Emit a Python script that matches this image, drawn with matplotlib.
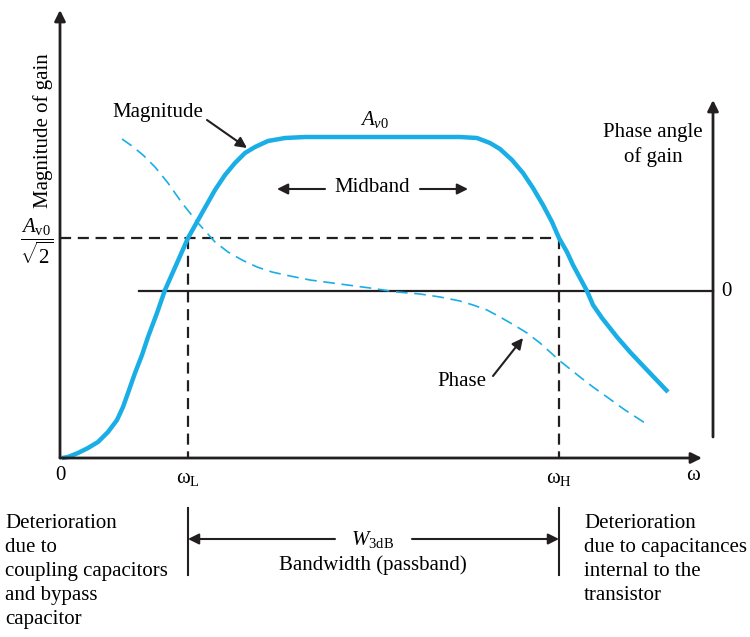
import matplotlib.pyplot as plt

plt.rcParams['font.family'] = ['Liberation Serif', 'DejaVu Serif']
plt.rcParams['mathtext.fontset'] = 'custom'
plt.rcParams['mathtext.rm'] = 'Liberation Serif'
plt.rcParams['mathtext.it'] = 'Liberation Serif:italic'

mag_x = [62, 68, 78, 88, 98, 108, 117, 123, 128, 135, 142, 148, 157, 165, 177, 188, 202, 215, 225,
         235, 245, 255, 268, 285, 305,
         440, 460, 477, 490, 500, 512, 523, 533, 543, 552, 559, 567, 573, 580, 587, 593, 602, 617,
         630, 647, 668]
mag_y = [458, 457, 453, 448, 442, 432, 420, 407, 393, 373, 355, 337, 313, 290, 263, 238, 213, 190, 175,
         163, 153, 147, 141, 138, 137,
         137, 137, 138, 143, 149, 160, 173, 188, 205, 222, 238, 252, 265, 278, 291, 305, 318, 337,
         352, 370, 392]

ph_x = [122, 132, 143, 155, 168, 182, 190, 198, 207, 215, 228, 242, 257, 272, 290, 310, 340, 370,
        397, 420, 440, 460, 473, 487, 500, 514, 527, 540, 550, 560, 570, 580, 593, 607, 625, 645]
ph_y = [139, 146, 155, 167, 183, 203, 213, 223, 233, 242, 252, 260, 267, 272, 276, 280, 284, 288,
        292, 294, 297, 301, 305, 310, 317, 325, 333, 343, 352, 361, 369, 377, 387, 397, 410, 423]

w_L, w_H = 188, 559
half_power_y = 238
zero_y = 291

blue = '#1AAEE6'
ink = '#231f20'
fs = 15

fig = plt.figure(figsize=(7.5, 6.37), dpi=100)
ax = fig.add_axes([0, 0, 1, 1])
ax.set_xlim(0, 750)
ax.set_ylim(637, 0)
ax.axis('off')

def arrow(tail, tip, lw=1.5, ms=16):
    ax.annotate('', xy=tip, xytext=tail,
                arrowprops=dict(arrowstyle='-|>', color=ink, lw=lw,
                                mutation_scale=ms, shrinkA=0, shrinkB=0))

# axes
arrow((60, 458), (60, 10), lw=2)
arrow((60, 458), (702, 458), lw=2)
arrow((713, 437), (713, 100), lw=2)
ax.plot([139, 713], [zero_y, zero_y], color=ink, lw=1.6)

# half power lines
ax.plot([60, w_H], [half_power_y, half_power_y], color=ink, lw=1.6, ls=(0, (5, 3)))
ax.plot([w_L, w_L], [half_power_y, 458], color=ink, lw=1.6, ls=(0, (5, 3)))
ax.plot([w_H, w_H], [half_power_y, 458], color=ink, lw=1.6, ls=(0, (5, 3)))

# curves
ax.plot(mag_x, mag_y, color=blue, lw=3.2, solid_capstyle='butt', solid_joinstyle='round')
ax.plot(ph_x, ph_y, color=blue, lw=1.2, ls=(0, (7, 4)))

# labels
ax.text(43, 131, 'Magnitude of gain', rotation=90, ha='center', va='center', fontsize=fs)
ax.text(37, 241, r'$\dfrac{A_{\rm v0}}{\sqrt{2}}$', ha='center', va='center', fontsize=fs)
ax.text(60, 476, '0', ha='center', va='center', fontsize=fs)
ax.text(w_L, 478, r'ω$_{\rm L}$', ha='center', va='center', fontsize=fs)
ax.text(w_H, 478, r'ω$_{\rm H}$', ha='center', va='center', fontsize=fs)
ax.text(693, 476, 'ω', ha='center', va='center', fontsize=fs)
ax.text(726, 292, '0', ha='center', va='center', fontsize=fs)
ax.text(653, 145, 'Phase angle\nof gain', ha='center', va='center', fontsize=fs, linespacing=1.35)
ax.text(375, 120, r'$A_{v0}$', ha='center', va='center', fontsize=fs)

ax.text(158, 113, 'Magnitude', ha='center', va='center', fontsize=fs)
arrow((207, 120), (247, 148))
ax.text(462, 382, 'Phase', ha='center', va='center', fontsize=fs)
arrow((493, 376), (523, 338))

ax.text(372, 188, 'Midband', ha='center', va='center', fontsize=fs)
arrow((325, 189), (277, 189))
arrow((420, 189), (468, 189))

# bandwidth
ax.plot([w_L, w_L], [508, 575], color=ink, lw=1.5)
ax.plot([w_H, w_H], [508, 575], color=ink, lw=1.5)
arrow((335, 539), (w_L, 539))
arrow((412, 539), (w_H, 539))
ax.text(373, 540, r'$W_{\rm 3dB}$', ha='center', va='center', fontsize=fs)
ax.text(373, 565, 'Bandwidth (passband)', ha='center', va='center', fontsize=fs)

ax.text(5, 514, 'Deterioration\ndue to\ncoupling capacitors\nand bypass\ncapacitor',
        ha='left', va='top', fontsize=fs, linespacing=1.35)
ax.text(584, 514, 'Deterioration\ndue to capacitances\ninternal to the\ntransistor',
        ha='left', va='top', fontsize=fs, linespacing=1.35)

fig.savefig('out.png', dpi=100)
